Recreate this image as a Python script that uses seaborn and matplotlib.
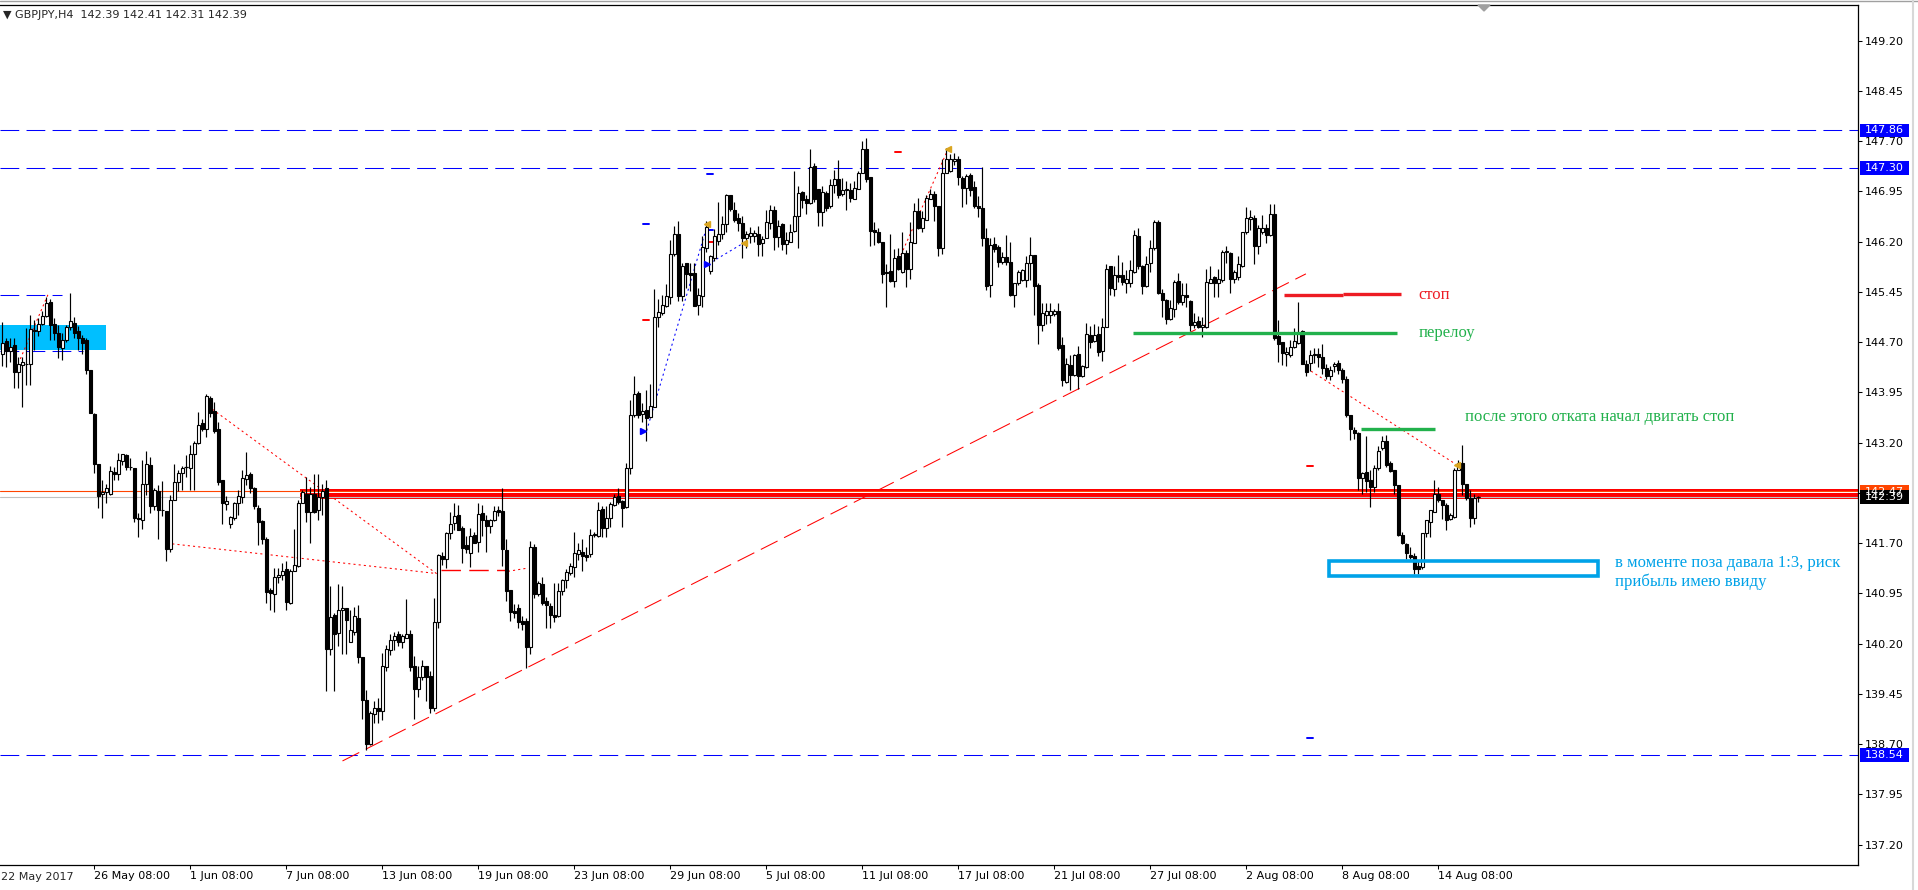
import matplotlib
matplotlib.use("Agg")
import matplotlib.pyplot as plt
from matplotlib.patches import Rectangle, Polygon
import matplotlib.transforms as mtransforms
import numpy as np
import pandas as pd
import seaborn as sns

# GBPJPY H4, 370 bars from 22 May 2017 08:00
opens = [
    144.52, 144.72, 144.57, 144.66, 144.25, 144.36, 144.37, 144.37, 144.86, 144.87,
    144.97, 145.09, 145.30, 144.97, 144.84, 144.61, 144.73, 144.92, 144.99, 144.87,
    144.77, 144.73, 144.28, 143.63, 142.88, 142.43, 142.46, 142.43, 142.76, 142.73,
    142.93, 143.01, 142.84, 142.82, 142.07, 142.05, 142.58, 142.87, 142.26, 142.48,
    142.19, 142.18, 141.61, 142.35, 142.61, 142.75, 142.84, 142.82, 143.03, 143.20,
    143.49, 143.40, 143.86, 143.67, 143.40, 142.64, 142.29, 141.99, 142.07, 142.30,
    142.39, 142.66, 142.73, 142.53, 142.23, 142.03, 141.76, 141.00, 140.94, 141.19,
    141.23, 141.31, 140.81, 141.29, 141.36, 142.30, 142.44, 142.17, 142.44, 142.20,
    142.39, 142.53, 140.12, 140.63, 140.36, 140.71, 140.73, 140.23, 140.38, 140.59,
    140.00, 139.36, 138.71, 139.15, 139.24, 139.20, 139.85, 140.11, 140.26, 140.35,
    140.23, 140.29, 140.34, 139.87, 139.53, 139.70, 139.86, 139.72, 139.24, 140.53,
    141.51, 141.47, 141.85, 142.00, 142.12, 141.93, 141.67, 141.55, 141.82, 141.72,
    142.15, 142.04, 141.96, 142.04, 142.20, 142.18, 141.60, 141.00, 140.69, 140.73,
    140.54, 140.54, 140.15, 141.65, 140.94, 141.09, 140.83, 140.76, 140.63, 140.61,
    140.98, 141.15, 141.26, 141.35, 141.54, 141.57, 141.53, 141.54, 141.82, 141.81,
    142.21, 141.93, 142.08, 142.27, 142.40, 142.33, 142.24, 142.82, 143.61, 143.94,
    143.63, 143.69, 143.58, 143.74, 145.07, 145.14, 145.24, 145.38, 146.02, 146.31,
    145.39, 145.88, 145.73, 145.73, 145.25, 145.39, 146.10, 145.77, 145.96, 146.21,
    146.31, 146.46, 146.89, 146.67, 146.56, 146.48, 146.26, 146.28, 146.28, 146.31,
    146.18, 146.26, 146.48, 146.67, 146.27, 146.47, 146.16, 146.20, 146.36, 146.58,
    146.94, 146.83, 146.78, 147.33, 146.98, 146.64, 146.92, 146.73, 147.05, 147.14,
    146.91, 146.97, 146.97, 146.84, 146.99, 147.23, 147.58, 147.16, 146.37, 146.34,
    146.19, 145.75, 145.76, 145.61, 145.98, 145.75, 146.03, 145.79, 146.18, 146.66,
    146.41, 146.52, 146.84, 146.91, 146.73, 146.11, 147.23, 147.26, 147.41, 147.44,
    147.15, 147.00, 147.19, 147.02, 146.73, 146.70, 146.25, 145.56, 146.17, 146.12,
    145.90, 145.97, 145.90, 145.40, 145.58, 145.63, 145.63, 145.88, 146.00, 145.55,
    144.96, 145.11, 145.11, 145.12, 145.17, 144.66, 144.11, 144.36, 144.21, 144.52,
    144.20, 144.33, 144.81, 144.72, 144.82, 144.57, 144.93, 145.83, 145.50, 145.70,
    145.70, 145.58, 145.59, 145.75, 146.29, 145.83, 145.54, 145.88, 146.10, 146.49,
    145.43, 145.33, 145.05, 145.20, 145.61, 145.30, 145.40, 145.31, 144.96, 145.02,
    144.92, 144.92, 145.59, 145.68, 145.58, 145.63, 146.04, 146.03, 145.64, 145.67,
    145.84, 146.34, 146.54, 146.56, 146.14, 146.35, 146.40, 146.30, 146.62, 144.80,
    144.71, 144.53, 144.51, 144.63, 144.69, 144.86, 144.38, 144.39, 144.51, 144.52,
    144.48, 144.31, 144.19, 144.34, 144.39, 144.29, 144.15, 143.61, 143.39, 143.35,
    142.68, 142.77, 142.64, 142.54, 142.82, 143.12, 143.23, 142.90, 142.79, 142.57,
    141.82, 141.69, 141.52, 141.51, 141.36, 141.34, 141.85, 142.02, 142.17, 142.43,
    142.34, 142.27, 142.06, 142.09, 142.80, 142.90, 142.59, 142.38, 142.07, 142.39,
]
highs = [
    145.00, 144.77, 144.77, 144.77, 144.48, 144.48, 144.91, 145.11, 145.03, 145.06,
    145.16, 145.38, 145.35, 145.06, 144.96, 144.83, 144.96, 145.43, 145.08, 144.94,
    144.81, 144.76, 144.28, 143.64, 142.88, 142.65, 142.58, 142.85, 142.84, 143.04,
    143.03, 143.03, 142.97, 142.82, 142.15, 142.94, 143.07, 142.98, 142.52, 142.57,
    142.63, 142.18, 142.42, 142.88, 142.79, 142.85, 143.02, 143.17, 143.22, 143.66,
    143.55, 143.92, 143.89, 143.81, 143.51, 142.64, 142.40, 142.10, 142.31, 142.49,
    142.79, 143.06, 142.77, 142.54, 142.27, 142.05, 141.79, 141.03, 141.33, 141.33,
    141.41, 141.43, 141.31, 141.91, 142.34, 142.49, 142.69, 142.54, 142.73, 142.73,
    142.58, 142.65, 141.06, 140.66, 141.09, 141.06, 140.73, 140.71, 140.75, 140.78,
    140.00, 139.51, 139.19, 139.34, 139.39, 140.06, 140.18, 140.35, 140.37, 140.39,
    140.34, 140.87, 140.41, 140.01, 139.86, 139.96, 139.87, 139.80, 140.88, 141.54,
    141.57, 141.87, 142.16, 142.30, 142.27, 141.96, 141.81, 141.93, 141.87, 142.30,
    142.27, 142.12, 142.06, 142.26, 142.26, 142.53, 141.76, 141.00, 140.79, 140.79,
    140.61, 140.59, 141.74, 141.69, 141.14, 141.20, 140.90, 140.81, 141.10, 141.11,
    141.16, 141.31, 141.40, 141.87, 141.70, 141.76, 141.65, 141.91, 141.86, 142.32,
    142.26, 142.25, 142.32, 142.43, 142.53, 142.35, 142.89, 143.84, 144.19, 143.97,
    143.79, 143.98, 144.07, 145.50, 145.34, 145.41, 145.57, 146.23, 146.43, 146.51,
    145.88, 145.88, 145.88, 145.88, 145.51, 146.28, 146.51, 146.00, 146.39, 146.80,
    146.58, 146.91, 146.90, 146.80, 146.63, 146.59, 146.36, 146.42, 146.37, 146.44,
    146.28, 146.68, 146.75, 146.73, 146.53, 146.48, 146.34, 146.47, 147.25, 147.03,
    146.96, 146.90, 147.58, 147.38, 146.99, 147.03, 146.95, 147.14, 147.27, 147.42,
    147.15, 147.11, 147.07, 147.11, 147.26, 147.70, 147.75, 147.17, 146.50, 146.40,
    146.19, 145.86, 146.31, 146.09, 146.11, 146.34, 146.07, 146.50, 146.78, 146.85,
    146.66, 146.90, 146.98, 146.95, 146.74, 147.44, 147.60, 147.51, 147.52, 147.48,
    147.18, 147.21, 147.22, 147.10, 146.88, 147.31, 146.40, 146.26, 146.27, 146.15,
    146.05, 146.30, 146.20, 145.58, 145.78, 145.80, 145.98, 146.27, 146.00, 145.58,
    145.28, 145.29, 145.29, 145.20, 145.29, 144.78, 144.47, 144.51, 144.53, 144.64,
    144.36, 144.99, 144.94, 144.97, 144.94, 145.06, 145.87, 145.84, 145.83, 146.00,
    145.90, 145.78, 145.93, 146.37, 146.40, 145.85, 145.98, 146.23, 146.52, 146.52,
    145.50, 145.35, 145.33, 145.63, 145.74, 145.58, 145.58, 145.33, 145.13, 145.09,
    145.08, 145.80, 145.83, 145.69, 145.80, 146.08, 146.14, 146.05, 145.78, 145.98,
    146.35, 146.72, 146.68, 146.60, 146.45, 146.60, 146.46, 146.77, 146.77, 145.03,
    144.71, 144.63, 144.73, 144.91, 145.30, 144.88, 144.43, 144.58, 144.61, 144.62,
    144.68, 144.38, 144.34, 144.40, 144.43, 144.31, 144.19, 143.61, 143.44, 143.36,
    142.77, 143.30, 142.79, 142.87, 143.15, 143.30, 143.31, 142.93, 142.80, 142.57,
    141.87, 141.71, 141.65, 141.55, 141.45, 141.85, 142.05, 142.20, 142.64, 142.54,
    142.35, 142.30, 142.15, 142.82, 142.94, 143.17, 142.59, 142.49, 142.44, 142.41,
]
lows = [
    144.34, 144.33, 144.41, 144.01, 144.01, 143.73, 144.06, 144.06, 144.58, 144.79,
    144.96, 145.08, 144.74, 144.74, 144.47, 144.43, 144.71, 144.88, 144.76, 144.58,
    144.52, 144.23, 143.64, 142.75, 142.23, 142.08, 142.30, 142.42, 142.64, 142.65,
    142.87, 142.79, 142.79, 142.02, 141.79, 141.91, 142.42, 142.15, 142.20, 141.76,
    142.11, 141.44, 141.57, 142.35, 142.48, 142.49, 142.69, 142.50, 142.49, 143.18,
    143.38, 143.28, 143.59, 143.34, 142.57, 141.98, 142.20, 141.92, 142.05, 142.12,
    142.30, 142.57, 142.45, 142.21, 141.68, 141.69, 140.81, 140.70, 140.68, 141.10,
    141.15, 140.71, 140.80, 141.28, 141.35, 142.30, 142.02, 141.71, 142.15, 142.04,
    142.12, 139.50, 140.03, 139.50, 140.17, 140.05, 140.05, 140.22, 140.33, 139.91,
    139.07, 138.61, 138.69, 139.01, 139.01, 139.06, 139.80, 140.03, 140.11, 140.16,
    140.13, 140.28, 139.80, 139.07, 139.41, 139.66, 139.35, 139.16, 139.19, 140.44,
    141.37, 141.33, 141.77, 141.89, 141.89, 141.41, 141.56, 141.34, 141.70, 141.57,
    141.81, 141.57, 141.85, 142.03, 142.10, 141.36, 140.83, 140.54, 140.58, 140.43,
    140.41, 139.83, 140.05, 140.88, 140.91, 140.78, 140.44, 140.44, 140.53, 140.60,
    140.93, 141.03, 141.23, 141.20, 141.45, 141.28, 141.43, 141.50, 141.79, 141.79,
    141.79, 141.80, 141.94, 142.26, 142.29, 141.94, 142.22, 142.74, 143.59, 143.57,
    143.51, 143.23, 143.57, 143.73, 144.92, 145.11, 145.22, 145.27, 145.99, 145.32,
    145.32, 145.51, 145.46, 145.24, 145.10, 145.22, 146.05, 145.72, 145.91, 146.15,
    146.24, 146.34, 146.66, 146.50, 146.36, 145.95, 146.11, 146.18, 146.19, 145.99,
    145.98, 146.25, 146.39, 146.07, 146.12, 146.07, 146.02, 146.19, 146.35, 146.10,
    146.71, 146.62, 146.76, 146.79, 146.43, 146.44, 146.66, 146.71, 146.92, 146.85,
    146.88, 146.67, 146.80, 146.83, 146.98, 147.22, 147.09, 146.14, 146.15, 146.18,
    145.59, 145.23, 145.60, 145.52, 145.78, 145.73, 145.52, 145.64, 146.18, 146.39,
    146.35, 146.52, 146.83, 146.51, 145.98, 146.02, 147.22, 147.24, 147.34, 147.05,
    146.72, 146.77, 146.88, 146.70, 146.57, 146.14, 145.48, 145.37, 146.04, 145.82,
    145.87, 145.85, 145.39, 145.23, 145.55, 145.62, 145.53, 145.63, 145.11, 144.67,
    144.87, 144.97, 144.98, 145.09, 144.59, 144.04, 144.09, 143.99, 144.19, 144.00,
    144.18, 144.32, 144.61, 144.71, 144.49, 144.42, 144.93, 145.40, 145.39, 145.60,
    145.56, 145.44, 145.52, 145.74, 145.80, 145.42, 145.53, 145.75, 146.08, 145.42,
    145.08, 144.97, 145.03, 145.08, 145.27, 145.25, 145.23, 144.86, 144.91, 144.91,
    144.78, 144.91, 145.58, 145.38, 145.38, 145.60, 145.88, 145.43, 145.59, 145.63,
    145.82, 146.32, 146.37, 145.87, 146.02, 146.32, 146.18, 146.29, 144.74, 144.41,
    144.36, 144.35, 144.48, 144.61, 144.68, 144.38, 144.19, 144.27, 144.39, 144.33,
    144.23, 144.15, 144.14, 144.26, 144.23, 144.09, 143.59, 143.24, 143.25, 142.49,
    142.44, 142.47, 142.24, 142.47, 142.80, 143.09, 142.84, 142.77, 142.44, 141.81,
    141.69, 141.47, 141.46, 141.24, 141.24, 141.31, 141.80, 141.80, 142.16, 142.32,
    142.06, 141.89, 142.05, 142.07, 142.80, 142.42, 142.34, 141.94, 141.98, 142.31,
]
closes = [
    144.69, 144.57, 144.63, 144.25, 144.37, 144.40, 144.38, 144.89, 144.88, 144.97,
    145.09, 145.28, 144.96, 144.83, 144.63, 144.73, 144.92, 145.02, 144.83, 144.76,
    144.69, 144.28, 143.64, 142.88, 142.41, 142.46, 142.53, 142.78, 142.73, 142.94,
    143.03, 142.83, 142.83, 142.07, 142.06, 142.58, 142.88, 142.26, 142.49, 142.19,
    142.20, 141.62, 142.35, 142.61, 142.75, 142.82, 142.84, 143.03, 143.19, 143.47,
    143.40, 143.89, 143.65, 143.37, 142.62, 142.30, 142.33, 142.09, 142.30, 142.40,
    142.67, 142.72, 142.52, 142.25, 142.02, 141.76, 140.97, 140.95, 141.19, 141.23,
    141.29, 140.82, 141.29, 141.37, 142.30, 142.46, 142.17, 142.43, 142.17, 142.39,
    142.48, 140.12, 140.60, 140.35, 140.71, 140.73, 140.56, 140.40, 140.61, 140.00,
    139.36, 138.71, 139.16, 139.24, 139.19, 139.86, 140.12, 140.26, 140.32, 140.23,
    140.31, 140.35, 139.85, 139.53, 139.70, 139.87, 139.70, 139.24, 140.53, 141.52,
    141.47, 141.85, 141.99, 142.11, 141.90, 141.63, 141.61, 141.81, 141.71, 142.13,
    142.04, 141.96, 142.04, 142.18, 142.17, 141.61, 140.99, 140.68, 140.66, 140.53,
    140.50, 140.15, 141.65, 140.94, 141.11, 140.81, 140.78, 140.63, 140.60, 140.98,
    141.15, 141.27, 141.36, 141.55, 141.60, 141.51, 141.50, 141.82, 141.83, 142.20,
    141.93, 142.08, 142.28, 142.39, 142.32, 142.22, 142.82, 143.61, 143.92, 143.62,
    143.67, 143.57, 143.75, 145.08, 145.15, 145.25, 145.39, 146.02, 146.31, 145.39,
    145.84, 145.72, 145.71, 145.24, 145.40, 146.12, 146.42, 145.98, 146.28, 146.31,
    146.47, 146.90, 146.69, 146.52, 146.48, 146.25, 146.32, 146.33, 146.33, 146.16,
    146.24, 146.50, 146.67, 146.27, 146.44, 146.16, 146.22, 146.35, 146.59, 146.92,
    146.82, 146.78, 147.32, 146.83, 146.64, 146.94, 146.71, 147.04, 147.14, 146.89,
    146.97, 146.99, 146.85, 147.00, 147.23, 147.58, 147.14, 146.36, 146.35, 146.19,
    145.72, 145.74, 145.62, 145.96, 145.79, 146.03, 145.79, 146.19, 146.66, 146.41,
    146.55, 146.85, 146.91, 146.74, 146.11, 147.23, 147.43, 147.43, 147.43, 147.16,
    147.00, 147.18, 146.97, 146.73, 146.70, 146.25, 145.54, 146.15, 146.09, 145.90,
    145.97, 145.90, 145.40, 145.58, 145.75, 145.78, 145.88, 146.00, 145.54, 144.96,
    145.13, 145.16, 145.17, 145.17, 144.62, 144.13, 144.38, 144.21, 144.51, 144.20,
    144.34, 144.82, 144.71, 144.81, 144.56, 144.93, 145.80, 145.51, 145.70, 145.68,
    145.60, 145.64, 145.78, 146.30, 145.83, 145.54, 145.87, 146.10, 146.49, 145.43,
    145.33, 145.05, 145.21, 145.60, 145.30, 145.40, 145.37, 144.96, 145.00, 144.92,
    144.95, 145.60, 145.64, 145.58, 145.64, 146.04, 146.06, 145.64, 145.75, 145.87,
    146.34, 146.55, 146.57, 146.13, 146.41, 146.41, 146.30, 146.61, 144.76, 144.68,
    144.54, 144.56, 144.63, 144.72, 144.84, 144.38, 144.25, 144.51, 144.53, 144.48,
    144.32, 144.19, 144.29, 144.37, 144.29, 144.15, 143.61, 143.40, 143.34, 142.68,
    142.75, 142.63, 142.54, 142.82, 143.08, 143.22, 142.87, 142.78, 142.57, 141.82,
    141.70, 141.56, 141.49, 141.32, 141.32, 141.85, 142.04, 142.19, 142.43, 142.34,
    142.27, 142.05, 142.12, 142.80, 142.90, 142.59, 142.37, 142.07, 142.37, 142.39,
]

date_labels = ["26 May 08:00", "1 Jun 08:00", "7 Jun 08:00", "13 Jun 08:00",
               "19 Jun 08:00", "23 Jun 08:00", "29 Jun 08:00", "5 Jul 08:00",
               "11 Jul 08:00", "17 Jul 08:00", "21 Jul 08:00", "27 Jul 08:00",
               "2 Aug 08:00", "8 Aug 08:00", "14 Aug 08:00"]
first_label = "22 May 2017"
price_ticks = [137.20, 137.95, 138.70, 139.45, 140.20, 140.95, 141.70, 142.45,
               143.20, 143.95, 144.70, 145.45, 146.20, 146.95, 147.70, 148.45, 149.20]
blue_levels = [147.86, 147.30, 138.54]
header = "\u25bc GBPJPY,H4  142.39 142.41 142.31 142.39"

# drawn objects on the chart
trend = pd.DataFrame({"bar": [85.05, 325.9], "price": [138.45, 145.72]})
red_dots = [((4.5, 144.45), (11.7, 145.45)), ((52.5, 143.70), (108.7, 141.24)),
            ((42.5, 141.69), (108.2, 141.25)), ((223.6, 145.86), (236.5, 147.59)),
            ((326.1, 144.31), (363.6, 142.87)), ((126.4, 141.28), (131.5, 141.33))]
blue_dots = [((161.1, 143.38), (176.1, 146.42)), ((176.3, 145.86), (185.3, 146.18))]
red_ticks = [(161.0, 145.03), (177.0, 146.19), (224.0, 147.54), (327.0, 142.85)]
blue_ticks = [(161.0, 146.46), (177.0, 147.21), (177.0, 146.37), (327.0, 138.80)]
gold_marks = [(176.3, 146.47), (185.5, 146.18), (236.5, 147.59), (363.6, 142.87)]
blue_arrows = [(160.3, 143.38), (176.3, 145.86)]

sns.set_style("white")
plt.rcParams["font.family"] = ["DejaVu Sans"]

W, H = 1918, 890
fig = plt.figure(figsize=(W / 100, H / 100), dpi=100)
ax = fig.add_axes([0, 25 / H, 1858 / W, 860 / H])
ax.set_xlim(-0.575, 463.925)
ax.set_ylim(136.897, 149.733)

# background objects: blue box top-left, red support band
ax.add_patch(Rectangle((-0.6, 144.58), 26.5, 0.37, color="#00bfff", lw=0, zorder=1))
ax.axhspan(142.355, 142.51, xmin=300 / 1858, xmax=1, color="#ff0000", lw=0, zorder=1)
ax.axhline(142.475, color="#ff4500", lw=0.8, zorder=1.2)
ax.axhline(142.465, xmin=300 / 1858, color="white", lw=0.7, zorder=1.3)
ax.axhline(142.395, color="#c0c0c0", lw=0.8, zorder=1.3)
for lv in blue_levels:
    ax.axhline(lv, color="#0000ff", lw=0.75, dashes=(18, 7), zorder=1.5)
ax.plot([-0.6, 15], [145.40, 145.40], color="#0000ff", lw=0.75, dashes=(18, 7), zorder=1.5)
ax.plot([-0.6, 20.2], [144.57, 144.57], color="#0000ff", lw=0.75, dashes=(18, 7), zorder=1.5)

# trend line and helper lines
sns.lineplot(data=trend, x="bar", y="price", ax=ax, color="#ff0000", lw=0.75,
             dashes=False, linestyle=(0, (18, 7)), zorder=2)
for (x0, y0), (x1, y1) in red_dots:
    ax.plot([x0, x1], [y0, y1], color="#ff0000", lw=0.75, dashes=(2, 3), zorder=2)
for (x0, y0), (x1, y1) in blue_dots:
    ax.plot([x0, x1], [y0, y1], color="#0000ff", lw=0.75, dashes=(2, 3), zorder=2)
ax.plot([109.8, 125.7], [141.30, 141.30], color="#ff0000", lw=1.0, dashes=(14, 6), zorder=2)
for x, y in red_ticks:
    ax.plot([x - 0.8, x + 0.8], [y, y], color="#ff0000", lw=1.4, zorder=3)
for x, y in blue_ticks:
    ax.plot([x - 0.8, x + 0.8], [y, y], color="#0000ff", lw=1.4, zorder=3)
for x, y in gold_marks:
    ax.plot(x, y, marker="<", ms=4, color="#daa520", mec="#daa520", zorder=6)
for x, y in blue_arrows:
    ax.plot(x, y, marker=">", ms=5, color="#0000ff", mec="#0000ff", zorder=6)

# candles
df = pd.DataFrame({"open": opens, "high": highs, "low": lows, "close": closes})
df["bar"] = np.arange(len(df))
bull = (df["close"] >= df["open"]).to_numpy()
lo = df[["open", "close"]].min(axis=1).to_numpy()
hgt = (df["close"] - df["open"]).abs().to_numpy()
bars = df["bar"].to_numpy()
ax.vlines(bars, df["low"], df["high"], color="black", lw=0.85, zorder=4)
ax.bar(bars[bull], hgt[bull], bottom=lo[bull], width=0.62, color="white",
       edgecolor="black", lw=0.8, zorder=5)
ax.bar(bars[~bull], hgt[~bull], bottom=lo[~bull], width=0.62, color="black",
       edgecolor="black", lw=0.8, zorder=5)
doji = hgt < 0.008
ax.hlines(lo[doji], bars[doji] - 0.45, bars[doji] + 0.45, color="black", lw=0.85, zorder=5)

# hand-drawn annotations
ax.plot([320.4, 335.2], [145.40, 145.40], color="#ed1c24", lw=2.4, solid_capstyle="butt", zorder=8)
ax.plot([335.2, 349.7], [145.415, 145.415], color="#ed1c24", lw=2.4, solid_capstyle="butt", zorder=8)
ax.plot([282.7, 348.7], [144.84, 144.84], color="#22b14c", lw=2.4, solid_capstyle="butt", zorder=8)
ax.plot([339.7, 358.1], [143.41, 143.41], color="#22b14c", lw=2.4, solid_capstyle="butt", zorder=8)
ax.add_patch(Rectangle((331.6, 141.21), 67.3, 0.22, fill=False, edgecolor="#00a2e8",
                       lw=2.6, zorder=8))
serif = ["Liberation Serif", "DejaVu Serif"]
ax.text(354.1, 145.40, "стоп", color="#ed1c24", fontsize=12, family=serif, va="center", zorder=9)
ax.text(354.1, 144.84, "перелоу", color="#22b14c", fontsize=12, family=serif, va="center", zorder=9)
ax.text(365.6, 143.58, "после этого отката начал двигать стоп", color="#22b14c",
        fontsize=12, family=serif, va="center", zorder=9)
ax.text(403.1, 141.40, "в моменте поза давала 1:3, риск", color="#00a2e8",
        fontsize=12, family=serif, va="center", zorder=9)
ax.text(403.1, 141.12, "прибыль имею ввиду", color="#00a2e8",
        fontsize=12, family=serif, va="center", zorder=9)

# axes look (MetaTrader style)
ax.spines["left"].set_visible(False)
for side in ["top", "right", "bottom"]:
    ax.spines[side].set_visible(True)
    ax.spines[side].set_color("black")
    ax.spines[side].set_linewidth(0.9)
ax.yaxis.tick_right()
ax.set_yticks(price_ticks)
ax.set_yticklabels([f"{v:.2f}" for v in price_ticks])
ax.tick_params(axis="y", direction="out", length=3, width=0.75, pad=2.2,
               labelsize=8, colors="black", right=True, left=False)
ax.set_xticks([23 + 24 * k for k in range(len(date_labels))])
ax.set_xticklabels(date_labels)
ax.tick_params(axis="x", direction="out", length=3, width=0.75, pad=1.5,
               labelsize=8, colors="black", bottom=True)
for lab in ax.get_xticklabels():
    lab.set_horizontalalignment("left")
ax.set_xlabel("")
ax.set_ylabel("")
ax.grid(False)

# price tags on the right scale (the 142.47 tag sits half under 142.39, as in MT4)
ytr = mtransforms.blended_transform_factory(ax.transAxes, ax.transData)
tags = [(147.86, "#0000ff"), (147.30, "#0000ff"), (138.54, "#0000ff"),
        (142.47, "#ff4500"), (142.39, "#000000")]
for price, col in tags:
    ax.add_patch(Rectangle((1860 / 1858, price - 0.1), 49 / 1858, 0.2, transform=ytr,
                           color=col, lw=0, clip_on=False, zorder=10))
    ax.text(1865 / 1858, price, f"{price:.2f}", transform=ytr, color="white",
            fontsize=8, va="center", ha="left", clip_on=False, zorder=11)

fig.text(1 / W, 1 - 877 / H, first_label, fontsize=8, va="center", ha="left")
fig.text(3 / W, 1 - 15 / H, header, fontsize=8, va="center", ha="left")
fig.patches.append(Polygon([[1478 / W, 1 - 5 / H], [1490 / W, 1 - 5 / H], [1484 / W, 1 - 11 / H]],
                           closed=True, transform=fig.transFigure, color="#a0a0a0"))
fig.lines.append(plt.Line2D([0, 1], [1 - 1 / H, 1 - 1 / H], transform=fig.transFigure,
                            color="#a0a0a0", lw=1))
fig.lines.append(plt.Line2D([1913 / W, 1913 / W], [0, 1], transform=fig.transFigure,
                            color="#d8d8d8", lw=1.5))

fig.savefig("out.png", dpi=100)
